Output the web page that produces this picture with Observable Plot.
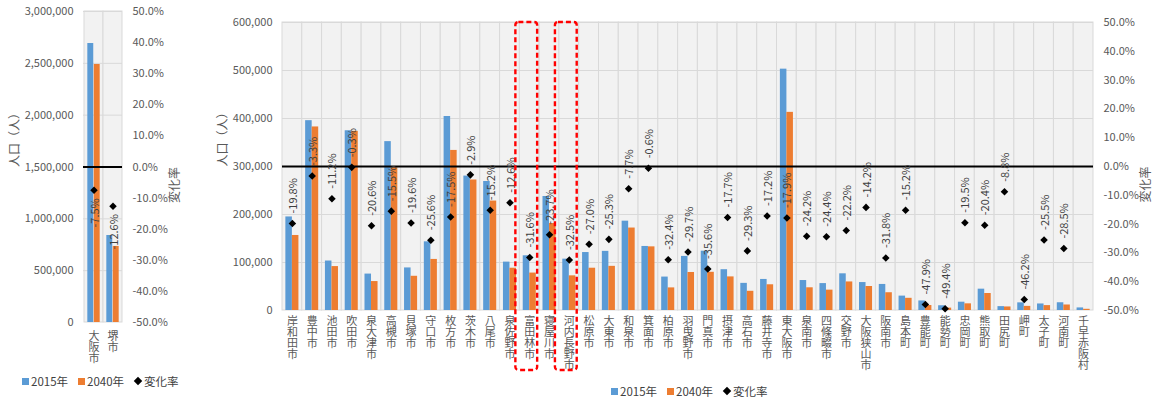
<!DOCTYPE html>
<html>
<head>
<meta charset="utf-8">
<script src="https://cdn.jsdelivr.net/npm/d3@7"></script>
<script src="https://cdn.jsdelivr.net/npm/@observablehq/plot@0.6"></script>
<style>
  body { margin: 0; background: #fff; font-family: "Noto Sans CJK JP", "Noto Sans", sans-serif; }
  #wrap { position: relative; width: 1157px; height: 400px; overflow: hidden; }
  .panel { position: absolute; top: 0; }
  .legend { position: absolute; display: flex; align-items: center; font-size: 11.5px; color: #404040; white-space: nowrap; }
  .legend .sw { display: inline-block; width: 7px; height: 7px; margin-right: 2px; }
  .legend .dm { display: inline-block; width: 6px; height: 6px; background: #000; transform: rotate(45deg); margin: 0 3px 0 1px; }
  .legend .item { display: inline-flex; align-items: center; margin-right: 10px; }
</style>
</head>
<body>
<div id="wrap">
  <div id="left" class="panel" style="left:0"></div>
  <div id="main" class="panel" style="left:200px"></div>
  <div class="legend" style="left:22px; top:373px">
    <span class="item"><span class="sw" style="background:#5b9bd5"></span>2015年</span>
    <span class="item"><span class="sw" style="background:#ed7d31"></span>2040年</span>
    <span class="item"><span class="dm"></span>変化率</span>
  </div>
  <div class="legend" style="left:611px; top:383px">
    <span class="item"><span class="sw" style="background:#5b9bd5"></span>2015年</span>
    <span class="item"><span class="sw" style="background:#ed7d31"></span>2040年</span>
    <span class="item"><span class="dm"></span>変化率</span>
  </div>
</div>
<script>
// 政令市（大阪市・堺市）
const cityNames = ["大阪市", "堺市"];
const city2015 = [2691185, 839310];
const city2040 = [2489000, 733600];
const cityChange = [-7.5, -12.6];
const cityTicks = [0, 500000, 1000000, 1500000, 2000000, 2500000, 3000000];

// その他の市町村
const muniNames = [
  "岸和田市", "豊中市", "池田市", "吹田市", "泉大津市", "高槻市", "貝塚市", "守口市", "枚方市", "茨木市",
  "八尾市", "泉佐野市", "富田林市", "寝屋川市", "河内長野市", "松原市", "大東市", "和泉市", "箕面市", "柏原市",
  "羽曳野市", "門真市", "摂津市", "高石市", "藤井寺市", "東大阪市", "泉南市", "四條畷市", "交野市", "大阪狭山市",
  "阪南市", "島本町", "豊能町", "能勢町", "忠岡町", "熊取町", "田尻町", "岬町", "太子町", "河南町", "千早赤阪村"
];
const muni2015 = [
  194911, 395479, 103069, 374468, 75897, 351829, 88694, 143042, 404152, 280033,
  268800, 100801, 113984, 237518, 106987, 120750, 123217, 186109, 133411, 69630,
  112683, 123576, 85007, 56529, 64693, 502784, 62438, 56075, 76435, 58227,
  54276, 29983, 19934, 9885, 17298, 44435, 8085, 15938, 13622, 16126, 5378
];
const muni2040 = [
  156300, 382400, 91500, 373300, 60300, 297400, 71300, 106400, 333500, 271900,
  228000, 88100, 78000, 181200, 72200, 88100, 92000, 171800, 132600, 47100,
  79200, 79600, 70000, 40000, 53600, 412800, 47300, 42400, 59500, 50000,
  37000, 25400, 10400, 5000, 13900, 35400, 7400, 8600, 10200, 11500, 2500
];
const muniChange = [
  -19.8, -3.3, -11.2, -0.3, -20.6, -15.5, -19.6, -25.6, -17.5, -2.9,
  -15.2, -12.6, -31.6, -23.7, -32.5, -27.0, -25.3, -7.7, -0.6, -32.4,
  -29.7, -35.6, -17.7, -29.3, -17.2, -17.9, -24.2, -24.4, -22.2, -14.2,
  -31.8, -15.2, -47.9, -49.4, -19.5, -20.4, -8.8, -46.2, -25.5, -28.5, null
];
const muniTicks = [0, 100000, 200000, 300000, 400000, 500000, 600000];
const muniHighlight = ["富田林市", "河内長野市"];

// 変化率軸（右軸）
const pctTicks = [-50, -40, -30, -20, -10, 0, 10, 20, 30, 40, 50];

const BLUE = "#5b9bd5", ORANGE = "#ed7d31", GRID = "#d9d9d9", PANEL = "#f2f2f2";
const FONT = `"Noto Sans CJK JP", "Noto Sans", sans-serif`;
const CHAR_STEP = 10.8; // 縦書きの字送り(px)

function panel({names, v2015, v2040, change, ticks, width, height, marginLeft, marginRight, marginTop, marginBottom,
                labelBelow, catDy, titleDx, highlight = []}) {
  const yMax = ticks[ticks.length - 1];
  // 変化率 -50%〜50% を人口軸 0〜yMax に重ねる
  const toY = p => (p / 100 + 0.5) * yMax;
  const rows = names.map((name, i) => ({name, a: v2015[i], b: v2040[i], c: change[i]}));
  const bw = (width - marginLeft - marginRight) / names.length;
  const gap = bw * 0.17, barW = bw * 0.33;

  // 市町村名は一文字ずつ縦に積む
  const maxLen = d3.max(names, n => [...n].length);
  const nameMarks = d3.range(maxLen).map(i =>
    Plot.text(names.filter(n => [...n].length > i), {
      x: d => d, text: d => [...d][i], frameAnchor: "bottom", lineAnchor: "top",
      dy: catDy + i * CHAR_STEP, fontSize: 11, fill: "#595959"
    })
  );

  return Plot.plot({
    width, height, marginLeft, marginRight, marginTop, marginBottom,
    style: {fontFamily: FONT, fontSize: "11px", color: "#595959", background: "transparent"},
    x: {type: "band", domain: names, paddingInner: 0, paddingOuter: 0, axis: null},
    y: {domain: [0, yMax], axis: null},
    marks: [
      // 背景と縦の区切り線
      Plot.barY(names, {x: d => d, y1: 0, y2: yMax, fill: PANEL, stroke: GRID, strokeWidth: 1}),
      Plot.ruleY(ticks.slice(1), {stroke: GRID, strokeWidth: 1}),
      Plot.barY(rows, {x: "name", y: "a", fill: BLUE, insetLeft: gap, insetRight: bw - gap - barW}),
      Plot.barY(rows, {x: "name", y: "b", fill: ORANGE, insetLeft: gap + barW, insetRight: gap}),
      // 変化率 0% の線
      Plot.ruleY([toY(0)], {stroke: "#000", strokeWidth: 2}),
      Plot.dot(rows.filter(d => d.c != null), {x: "name", y: d => toY(d.c), symbol: "diamond2", r: 3.4, fill: "#000"}),
      Plot.text(rows.filter(d => d.c != null), {
        x: "name", y: d => toY(d.c), text: d => d.c.toFixed(1) + "%",
        rotate: -90, textAnchor: labelBelow ? "end" : "start", dy: labelBelow ? 8 : -10, dx: 1,
        fontSize: 11, fill: "#404040"
      }),
      ...nameMarks,
      // 強調枠
      Plot.barY(highlight, {
        x: d => d, y1: 0, y2: yMax, fill: "none", stroke: "#ff0000", strokeWidth: 2.4,
        strokeDasharray: "5,3", rx: 3, insetLeft: -4, insetRight: 2, insetBottom: -60
      }),
      Plot.axisY({ticks, tickFormat: d3.format(","), tickSize: 0, tickPadding: 10, label: null, fontSize: 11}),
      Plot.axisY({
        anchor: "right", ticks: pctTicks.map(toY), tickSize: 0, tickPadding: 10, label: null, fontSize: 11,
        tickFormat: v => ((v / yMax - 0.5) * 100).toFixed(1) + "%"
      }),
      Plot.text(["人口（人）"], {frameAnchor: "left", dx: titleDx, rotate: -90, fontSize: 12, fill: "#595959"}),
      Plot.text(["変化率"], {frameAnchor: "right", dx: 53, rotate: -90, fontSize: 12, fill: "#595959"})
    ]
  });
}

document.getElementById("left").append(panel({
  names: cityNames, v2015: city2015, v2040: city2040, change: cityChange, ticks: cityTicks,
  width: 200, height: 400, marginLeft: 83, marginRight: 78, marginTop: 11, marginBottom: 78,
  labelBelow: true, catDy: 10, titleDx: -68
}));

document.getElementById("main").append(panel({
  names: muniNames, v2015: muni2015, v2040: muni2040, change: muniChange, ticks: muniTicks,
  width: 957, height: 400, marginLeft: 82, marginRight: 64, marginTop: 22, marginBottom: 90,
  labelBelow: false, catDy: 7, titleDx: -59, highlight: muniHighlight
}));
</script>
</body>
</html>
